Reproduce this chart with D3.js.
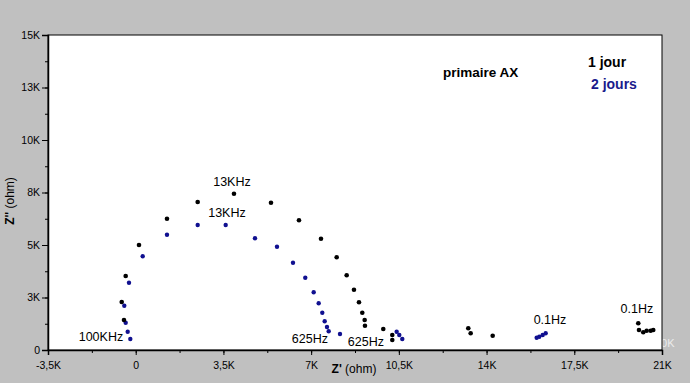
<!DOCTYPE html>
<html><head><meta charset="utf-8">
<script src="https://cdn.jsdelivr.net/npm/d3@7"></script>
<style>body{margin:0;background:#c0c0c0;}svg{display:block;}</style>
</head><body>
<script>
// Data: Nyquist plot, Z' (ohm) vs Z'' (ohm)
const jour1X = [-468,-559,-400,131,1248,2473,3921,5398,6515,7393,8019,8418,8709,8909,9041,9136,9148,9878,10238,10238,13270,13366,14244,20053,20081,20252,20388,20548,20651];
const jour1Y = [1429,2286,3524,5000,6253,7048,7443,7014,6176,5300,4414,3557,2871,2271,1776,1429,1157,1000,714,476,1033,795,681,1271,952,843,919,919,952];
const jours2X = [-216,-320,-400,-456,-268,279,1248,2473,3590,4759,5637,6276,6766,7101,7301,7445,7540,7632,7700,8151,10413,10517,10637,15999,16103,16239,16358];
const jours2Y = [524,871,1300,2110,3205,4462,5491,5952,5952,5319,4919,4157,3443,2748,2224,1776,1367,1095,890,762,871,714,524,586,633,714,795];
const xTicks = [-3500,0,3500,7000,10500,14000,17500,21000];
const xTickLabels = ["-3,5K","0","3,5K","7K","10,5K","14K","17,5K","21K"];
const yTicks = [0,2500,5000,7500,10000,12500,15000];
const yTickLabels = ["0","3K","5K","8K","10K","13K","15K"];
const freqLabels = [
  {text:"100KHz", x:-500, y:430, anchor:"end"},
  {text:"13KHz", x:3842, y:7810, anchor:"middle"},
  {text:"13KHz", x:3642, y:6333, anchor:"middle"},
  {text:"625Hz", x:7672, y:333, anchor:"end"},
  {text:"625Hz", x:9906, y:190, anchor:"end"},
  {text:"0.1Hz", x:16530, y:1238, anchor:"middle"},
  {text:"0.1Hz", x:19999, y:1762, anchor:"middle"}
];
const W = 690, H = 383;
const svg = d3.select("body").append("svg").attr("width", W).attr("height", H);
svg.append("rect").attr("width", W).attr("height", H).attr("fill", "#c0c0c0");
const L = 48, R = 662, T = 35, B = 350;
const x = d3.scaleLinear().domain([-3500, 21000]).range([L, R]);
const y = d3.scaleLinear().domain([0, 15000]).range([B, T]);
const font = "'Liberation Sans', Arial, sans-serif";

// ghost label partly hidden behind the plot area
svg.append("text").attr("x", 655).attr("y", 347).attr("font-family", font).attr("font-size", 11)
  .attr("fill", "#ececec").text("10K");

svg.append("rect").attr("x", L).attr("y", T).attr("width", R - L).attr("height", B - T)
  .attr("fill", "#fff").attr("stroke", "#000").attr("stroke-width", 1);

// minor ticks
const xMinor = d3.range(-3500, 21001, 1750);
svg.append("g").attr("transform", `translate(0,${B})`)
  .call(d3.axisBottom(x).tickValues(xMinor).tickSize(3).tickFormat(""))
  .call(g => g.select(".domain").remove());
const yMinor = d3.range(0, 15001, 1250);
svg.append("g").attr("transform", `translate(${L},0)`)
  .call(d3.axisLeft(y).tickValues(yMinor).tickSize(3).tickFormat(""))
  .call(g => g.select(".domain").remove());

const xAxis = svg.append("g").attr("transform", `translate(0,${B})`)
  .call(d3.axisBottom(x).tickValues(xTicks).tickSize(5).tickPadding(7)
    .tickFormat((d, i) => xTickLabels[i]));
xAxis.select(".domain").attr("stroke-width", 1.5);
xAxis.selectAll("text").attr("font-family", font).attr("font-size", 10.5).attr("fill", "#000");

const yAxis = svg.append("g").attr("transform", `translate(${L},0)`)
  .call(d3.axisLeft(y).tickValues(yTicks).tickSize(6).tickPadding(2)
    .tickFormat((d, i) => yTickLabels[i]));
yAxis.select(".domain").attr("stroke-width", 1.5);
yAxis.selectAll("text").attr("font-family", font).attr("font-size", 10.5).attr("fill", "#000");

// axis titles
const xt = svg.append("text").attr("x", 354).attr("y", 373).attr("text-anchor", "middle")
  .attr("font-family", font).attr("font-size", 12);
xt.append("tspan").attr("font-weight", "bold").text("Z'");
xt.append("tspan").text(" (ohm)");
const yt = svg.append("text").attr("transform", "translate(14,201) rotate(-90)").attr("text-anchor", "middle")
  .attr("font-family", font).attr("font-size", 12);
yt.append("tspan").attr("font-weight", "bold").text("Z''");
yt.append("tspan").text(" (ohm)");

// points
const d1 = jour1X.map((v, i) => [v, jour1Y[i]]);
const d2 = jours2X.map((v, i) => [v, jours2Y[i]]);
svg.append("g").selectAll("circle").data(d2).join("circle")
  .attr("cx", d => x(d[0])).attr("cy", d => y(d[1])).attr("r", 2.2).attr("fill", "#101090");
svg.append("g").selectAll("circle").data(d1).join("circle")
  .attr("cx", d => x(d[0])).attr("cy", d => y(d[1])).attr("r", 2.3).attr("fill", "#000");

// frequency labels
svg.append("g").selectAll("text").data(freqLabels).join("text")
  .attr("x", d => x(d.x)).attr("y", d => y(d.y)).attr("text-anchor", d => d.anchor)
  .attr("font-family", font).attr("font-size", 12.5).attr("fill", "#000").text(d => d.text);

// legend / title
svg.append("text").attr("x", 443).attr("y", 77).attr("font-family", font).attr("font-size", 13.5)
  .attr("font-weight", "bold").text("primaire AX");
svg.append("text").attr("x", 588).attr("y", 67).attr("font-family", font).attr("font-size", 14)
  .attr("font-weight", "bold").text("1 jour");
svg.append("text").attr("x", 591).attr("y", 89).attr("font-family", font).attr("font-size", 14)
  .attr("font-weight", "bold").attr("fill", "#1a1a8c").text("2 jours");
</script>
</body></html>
